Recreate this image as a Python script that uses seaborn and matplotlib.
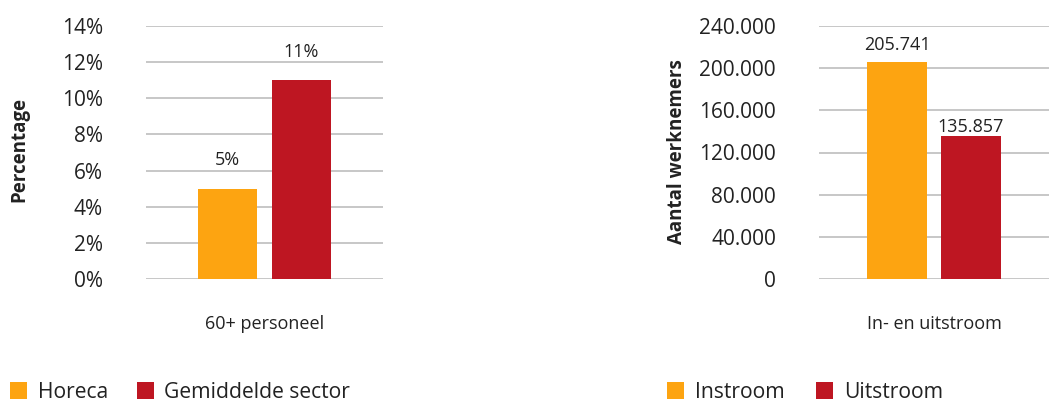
import matplotlib
matplotlib.use("Agg")
import matplotlib.pyplot as plt
from matplotlib.patches import Patch
import seaborn as sns
import pandas as pd

# data
left_category = ["60+ personeel"]
left_series = ["Horeca", "Gemiddelde sector"]
left_values = [5, 11]

right_category = ["In- en uitstroom"]
right_series = ["Instroom", "Uitstroom"]
right_values = [205741, 135857]

left_ticks = [0, 2, 4, 6, 8, 10, 12, 14]
right_ticks = [0, 40000, 80000, 120000, 160000, 200000, 240000]

colors = ["#FDA411", "#BE1622"]

sns.set_theme(style="white")
plt.rcParams['font.family'] = ['Open Sans', 'DejaVu Sans']

fig = plt.figure(figsize=(10.49, 4.03), dpi=100)
ax1 = fig.add_axes([146/1049, 1-279/403, 237/1049, 253/403])
ax2 = fig.add_axes([819/1049, 1-279/403, 230/1049, 253/403])

df_left = pd.DataFrame({'cat': left_category * 2, 'reeks': left_series, 'waarde': left_values})
df_right = pd.DataFrame({'cat': right_category * 2, 'reeks': right_series, 'waarde': right_values})

sns.barplot(data=df_left, x='cat', y='waarde', hue='reeks', palette=colors,
            width=148/237, gap=0.19, errorbar=None, ax=ax1, legend=False,
            saturation=1, linewidth=0)
sns.barplot(data=df_right, x='cat', y='waarde', hue='reeks', palette=colors,
            width=148/230, gap=0.19, errorbar=None, ax=ax2, legend=False,
            saturation=1, linewidth=0)

def dutch(v):
    return f"{int(v):,}".replace(",", ".")

# left chart
ax1.set_ylim(0, 14)
ax1.set_yticks(left_ticks)
ax1.set_yticklabels([f"{t}%" for t in left_ticks])
for c in ax1.containers:
    ax1.bar_label(c, labels=[f"{int(v)}%" for v in c.datavalues], padding=14,
                  fontsize=13, color='#222222')

# right chart
ax2.set_ylim(0, 240000)
ax2.set_yticks(right_ticks)
ax2.set_yticklabels([dutch(t) for t in right_ticks])
pads = [6, 0]
for c, p in zip(ax2.containers, pads):
    ax2.bar_label(c, labels=[dutch(v) for v in c.datavalues], padding=p,
                  fontsize=13, color='#222222')

for ax in (ax1, ax2):
    ax.set_xlim(-0.5, 0.5)
    ax.set_xlabel("")
    ax.set_axisbelow(True)
    ax.yaxis.grid(True, color='#BDBDBD', linewidth=1.2)
    ax.xaxis.grid(False)
    for s in ax.spines.values():
        s.set_visible(False)
    ax.tick_params(axis='y', length=0, pad=31, labelsize=15, labelcolor='#222222')
    ax.tick_params(axis='x', length=0, pad=26, labelsize=13, labelcolor='#222222')

ax1.set_ylabel("Percentage", fontsize=13.5, fontweight='bold', color='#222222')
ax1.yaxis.set_label_coords(-0.494, 0.51)
ax2.set_ylabel("Aantal werknemers", fontsize=13.5, fontweight='bold', color='#222222')
ax2.yaxis.set_label_coords(-0.574, 0.505)

# legends
def make_legend(labels, x, spacing):
    handles = [Patch(facecolor=col, edgecolor='none', linewidth=0) for col in colors]
    fig.legend(handles, labels, loc='center left', bbox_to_anchor=(x, 1-392/403), ncol=2,
               frameon=False, fontsize=15.2, handlelength=0.8, handleheight=0.86,
               handletextpad=0.51, columnspacing=spacing, borderpad=0, borderaxespad=0,
               labelcolor='#222222')

make_legend(left_series, 10/1049, 1.36)
make_legend(right_series, 667/1049, 1.5)

fig.savefig("out.png", dpi=100)
